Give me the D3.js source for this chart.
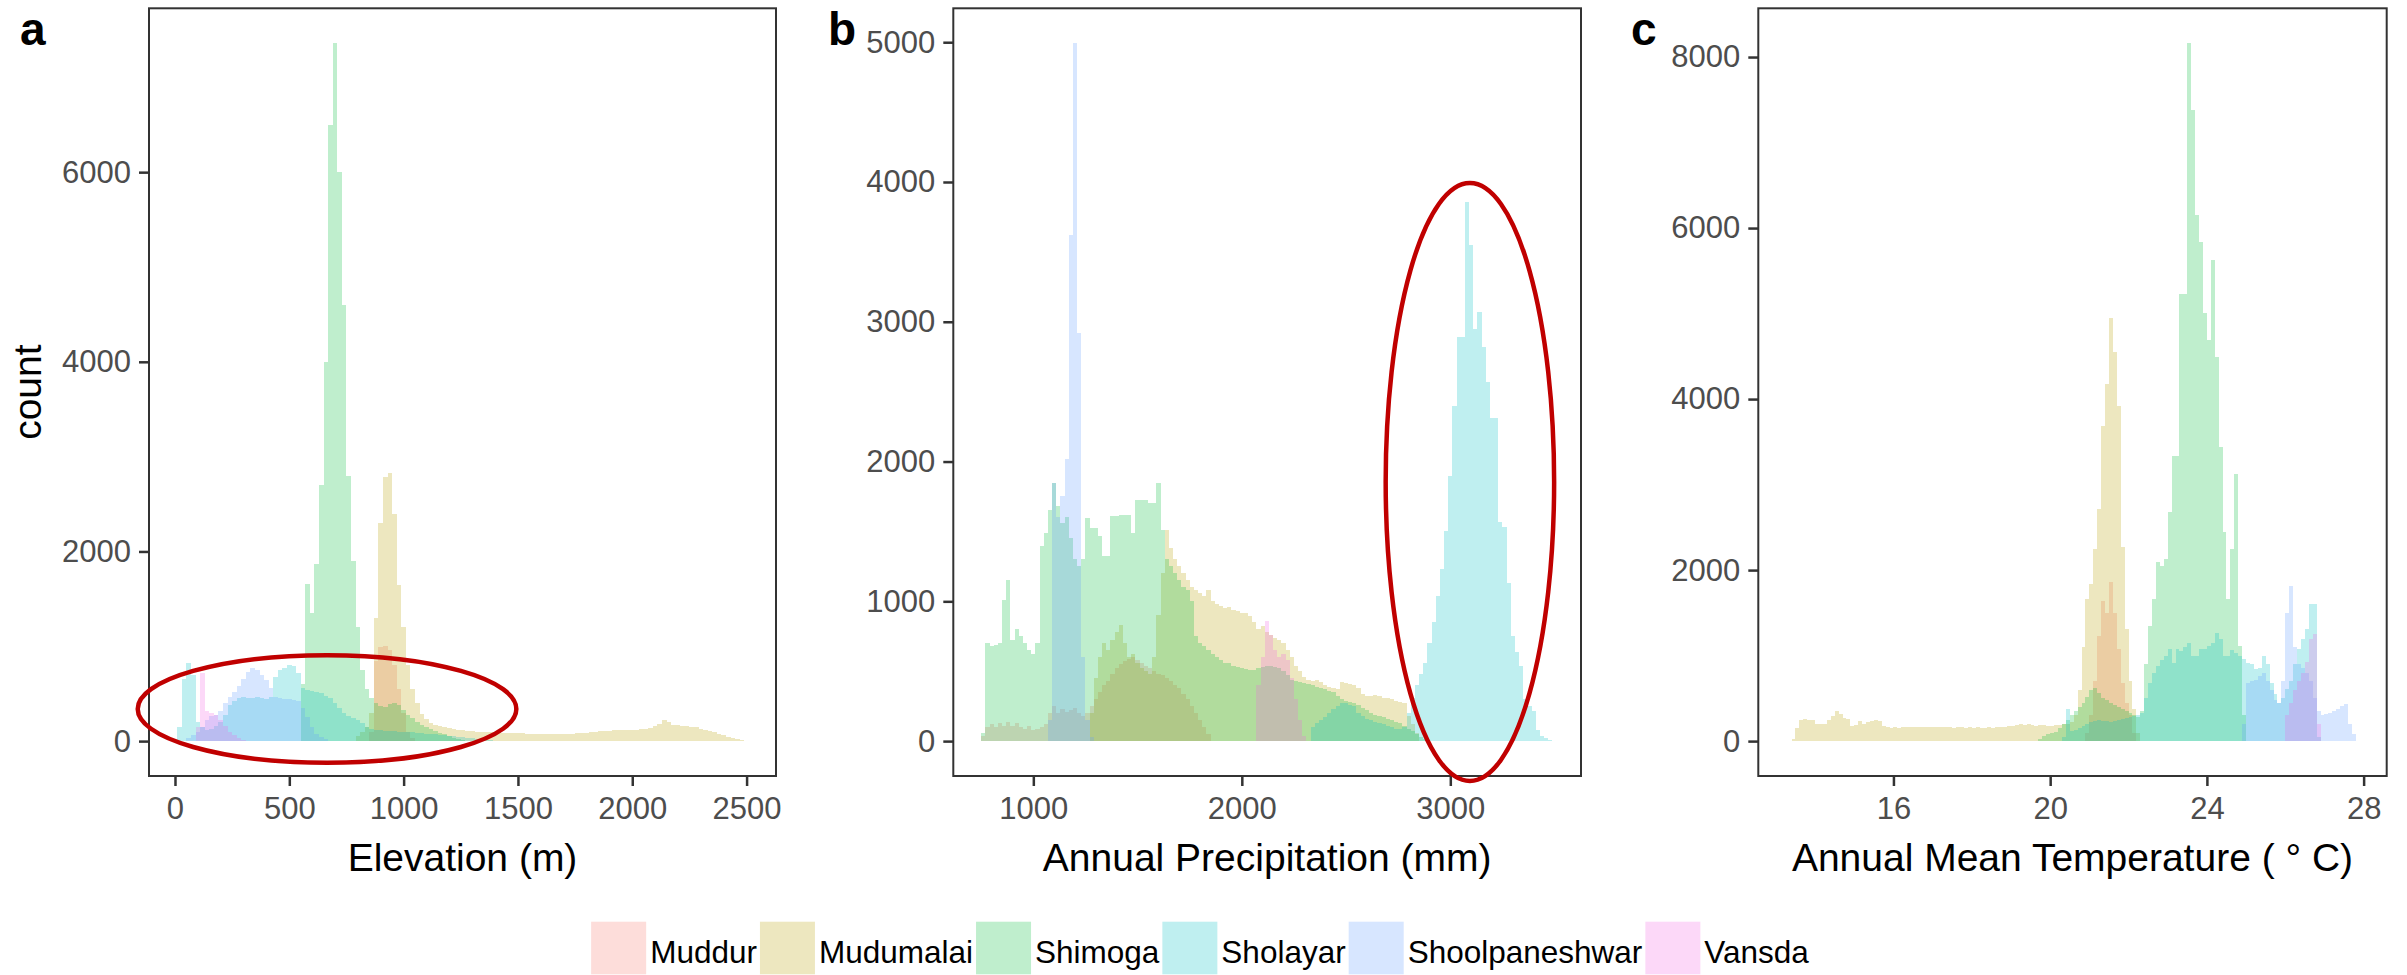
<!DOCTYPE html>
<html><head><meta charset="utf-8">
<script src="https://cdn.jsdelivr.net/npm/d3@7"></script>
<style>
body{margin:0;background:#fff}
svg{display:block}
text{font-family:"Liberation Sans",Arial,Helvetica,sans-serif}
</style>
</head><body>
<svg id="chart" width="2407" height="975"></svg>
<script>
// ---------------- DATA ----------------
const groups = ["Muddur","Mudumalai","Shimoga","Sholayar","Shoolpaneshwar","Vansda"];
const groupColors = ["#F8766D","#B79F00","#00BA38","#00BFC4","#619CFF","#F564E3"];

// Panel a: Elevation (m), bin width 20
const elevBinWidth = 20;
const elevRange = [11, 2504];
const elevTicks = [0, 500, 1000, 1500, 2000, 2500];
const elevCountTicks = [0, 2000, 4000, 6000];
const elevMuddurStart = 850;
const elevMuddur = [100,850,990,1000,960,800,550,300,100,30];
const elevMudumalaiStart = 790;
const elevMudumalai = [50,100,150,300,1300,2300,2780,2830,2400,1650,
 1200,800,550,400,290,230,190,170,160,150,
 140,130,120,115,110,105,100,100,95,98,
 92,90,88,90,85,82,85,80,78,80,
 76,78,75,78,74,76,80,78,82,85,
 88,92,98,105,110,108,112,115,112,118,
 122,120,125,130,140,155,185,218,200,175,
 165,160,158,150,145,130,120,105,95,80,
 60,45,35,25,12];
const elevShimogaStart = 550;
const elevShimoga = [600,1660,1350,1870,2700,4000,6500,7360,6000,4600,
 2800,1900,1200,750,550,450,400,370,360,390,
 400,380,330,280,240,200,170,150,130,110,
 90,70,50,35,20,10];
const elevSholayarStart = 10;
const elevSholayar = [150,650,820,700,200,150,120,130,160,200,
 280,380,420,450,460,450,450,460,450,440,
 470,680,750,770,805,790,720,560,540,530,
 520,510,480,450,400,350,300,270,240,220,
 190,150,130,120,115,110,108,105,100,98,
 95,92,90,85,80,75,70,65,60,55,
 50,45,40,35,30,25,20,15,10,5];
const elevShoolpaneshwarStart = 50;
const elevShoolpaneshwar = [30,60,100,150,220,260,280,320,400,470,
 520,580,650,730,770,750,700,640,560,470,
 450,440,440,430,420,350,250,150,80,40,
 20];
const elevVansdaStart = 90;
const elevVansda = [150,720,320,300,280,220,160,100,60,30,10];

// Panel b: Annual Precipitation (mm), bin width 20
const precBinWidth = 20;
const precRange = [753, 3490];
const precTicks = [1000, 2000, 3000];
const precCountTicks = [0, 1000, 2000, 3000, 4000, 5000];
const precMuddurStart = 750;
const precMuddur = [40,100,120,100,130,110,140,110,130,100,
 90,110,80,90,100,120,200,250,200,230,
 210,220,240,200,180,200,250,300,350,400,
 430,480,520,550,570,590,600,580,560,540,
 520,500,480,470,450,430,400,380,340,300,
 250,200,150,100,50];
const precMudumalaiStart = 1270;
const precMudumalai = [200,450,600,700,650,720,780,830,700,600,
 620,560,520,500,480,600,900,1200,1512,1380,
 1300,1250,1200,1150,1100,1083,1060,1040,1083,1000,
 980,964,950,960,940,930,916,920,893,850,
 800,820,780,760,740,720,700,655,600,535,
 500,460,440,430,440,420,400,390,380,370,
 420,417,410,400,380,340,321,321,330,320,
 310,310,300,290,280,274,178,120,60];
const precShimogaStart = 750;
const precShimoga = [60,700,680,690,700,1012,1155,726,800,750,
 700,655,620,700,1393,1488,1650,1845,1680,1560,
 1600,1450,1300,1250,1300,1595,1524,1524,1464,1321,
 1321,1607,1607,1620,1620,1620,1488,1726,1726,1726,
 1702,1702,1845,1512,1300,1250,1200,1150,1100,1083,
 1000,750,700,680,650,620,600,580,560,560,
 540,530,520,515,512,510,520,530,535,535,
 530,520,500,470,440,430,420,417,410,400,
 390,380,370,360,350,320,300,290,280,274,
 260,240,220,200,190,180,170,160,150,140,
 130,110,90,70,50,30,15];
const precSholayarStart = 2330;
const precSholayar = [100,130,150,170,200,230,250,274,274,260,
 250,200,180,160,150,140,130,120,110,100,
 90,90,100,200,310,400,480,560,700,850,
 1040,1230,1500,1900,2400,2890,2890,3860,3550,2950,
 3070,2820,2570,2310,2310,1570,1535,1130,750,640,
 536,300,250,214,83,40,24,10];
const precShoolpaneshwarStart = 1070;
const precShoolpaneshwar = [150,1845,1600,1750,2017,3619,4993,2917,600,150,30];
const precVansdaStart = 2070;
const precVansda = [400,600,857,760,650,600,620,580,450,300,150,40];

// Panel c: Annual Mean Temperature (°C), bin width 0.1
const tempBinWidth = 0.1;
const tempRange = [13.28, 27.86];
const tempTicks = [16, 20, 24, 28];
const tempCountTicks = [0, 2000, 4000, 6000, 8000];
const tempMuddurStart = 20.9;
const tempMuddur = [100,300,700,1230,1640,1504,1855,1500,1074,683,449,300,100];
const tempMudumalaiStart = 13.4;
const tempMudumalai = [20,150,250,260,250,250,200,195,200,250,
 293,352,312,270,260,176,190,234,200,220,
 240,245,230,180,160,155,160,150,165,170,
 160,170,165,160,170,160,165,160,170,165,
 160,155,160,165,155,160,150,160,155,150,
 160,155,165,160,170,175,180,190,200,185,
 195,190,180,190,185,180,180,190,190,200,
 200,220,300,600,1100,1660,1836,2246,2715,3689,
 4174,4951,4551,3914,2265,1308,700,371,100];
const tempShimogaStart = 19.7;
const tempShimoga = [30,60,80,100,110,150,200,250,300,350,
 400,450,520,600,625,560,500,480,450,420,
 400,380,350,330,300,280,350,900,1348,1660,
 2090,2050,2128,2676,3339,3339,5234,5234,8162,7378,
 6155,5832,5009,4691,5630,4497,3437,2441,1660,2246,
 3126,1113,300];
const tempSholayarStart = 20.3;
const tempSholayar = [50,371,120,130,150,180,200,220,240,250,
 240,230,220,230,250,260,270,280,290,300,
 330,500,683,800,880,950,996,1074,918,1074,
 1050,1100,1150,996,1000,1074,1074,1113,1150,1270,
 1191,996,1000,1070,1030,990,960,918,900,840,
 860,996,900,683,550,449,500,605,700,900,
 1074,1191,1308,1601,1601,50];
const tempShoolpaneshwarStart = 24.9;
const tempShoolpaneshwar = [200,680,700,720,760,800,700,600,480,450,
 700,1500,1816,1100,900,850,800,700,500,350,
 300,320,330,350,380,410,430,200,80];
const tempVansdaStart = 26.0;
const tempVansda = [300,450,600,700,800,920,1191,1250,200];

// Annotation ellipses (data units): centre x, centre count, radius x, radius count
const ellipseElev = [665, 339, 828, 567];
const ellipsePrec = [3094, 1854, 404, 2139];

// ---------------- DRAW ----------------
const svg = d3.select("#chart");
const panelTop = 8.3, panelBottom = 776;
const fill = 0.25;

const panels = [
  {label:"a", left:149, right:776, range:elevRange, w:elevBinWidth, xticks:elevTicks, yticks:elevCountTicks,
   title:"Elevation (m)", ylab:"count", labelX:20, ellipse:ellipseElev,
   series:[[elevMuddurStart,elevMuddur],[elevMudumalaiStart,elevMudumalai],[elevShimogaStart,elevShimoga],
           [elevSholayarStart,elevSholayar],[elevShoolpaneshwarStart,elevShoolpaneshwar],[elevVansdaStart,elevVansda]]},
  {label:"b", left:953.3, right:1581, range:precRange, w:precBinWidth, xticks:precTicks, yticks:precCountTicks,
   title:"Annual Precipitation (mm)", labelX:828, ellipse:ellipsePrec,
   series:[[precMuddurStart,precMuddur],[precMudumalaiStart,precMudumalai],[precShimogaStart,precShimoga],
           [precSholayarStart,precSholayar],[precShoolpaneshwarStart,precShoolpaneshwar],[precVansdaStart,precVansda]]},
  {label:"c", left:1758.3, right:2386.7, range:tempRange, w:tempBinWidth, xticks:tempTicks, yticks:tempCountTicks,
   title:"Annual Mean Temperature ( \u00B0 C)", labelX:1631,
   series:[[tempMuddurStart,tempMuddur],[tempMudumalaiStart,tempMudumalai],[tempShimogaStart,tempShimoga],
           [tempSholayarStart,tempSholayar],[tempShoolpaneshwarStart,tempShoolpaneshwar],[tempVansdaStart,tempVansda]]}
];

panels.forEach(p => {
  const span = p.range[1]-p.range[0];
  const x = d3.scaleLinear().domain([p.range[0]-0.05*span, p.range[1]+0.05*span]).range([p.left, p.right]);
  const ymax = d3.max(p.series, s => d3.max(s[1]));
  const y = d3.scaleLinear().domain([-0.05*ymax, 1.05*ymax]).range([panelBottom, panelTop]);

  const g = svg.append("g");
  const area = d3.area().curve(d3.curveStepAfter)
     .x(d => x(d.x)).y0(y(0)).y1(d => y(d.c));

  p.series.forEach((s, gi) => {
    const start = s[0], counts = s[1];
    const pts = counts.map((c,i) => ({x: start + i*p.w, c}));
    pts.push({x: start + counts.length*p.w, c: counts[counts.length-1]});
    g.append("path").attr("d", area(pts))
      .attr("fill", groupColors[gi]).attr("fill-opacity", fill)
      .attr("shape-rendering","crispEdges");
  });

  // frame
  svg.append("rect").attr("x", p.left).attr("y", panelTop)
     .attr("width", p.right-p.left).attr("height", panelBottom-panelTop)
     .attr("fill","none").attr("stroke","#333333").attr("stroke-width",2);

  // axes
  const xa = svg.append("g").attr("transform",`translate(0,${panelBottom})`)
     .call(d3.axisBottom(x).tickValues(p.xticks).tickSize(10).tickPadding(11).tickFormat(d3.format("d")));
  const ya = svg.append("g").attr("transform",`translate(${p.left},0)`)
     .call(d3.axisLeft(y).tickValues(p.yticks).tickSize(10).tickPadding(8).tickFormat(d3.format("d")));
  [xa, ya].forEach(a => {
    a.select(".domain").remove();
    a.selectAll(".tick line").attr("stroke","#333333").attr("stroke-width",2.5);
    a.selectAll(".tick text").attr("fill","#4D4D4D").style("font-size","31px").style("font-family",'"Liberation Sans",Arial,sans-serif');
  });

  // x title
  svg.append("text").attr("x",(p.left+p.right)/2).attr("y",871)
     .attr("text-anchor","middle").style("font-size","39px").attr("fill","#000")
     .text(p.title);
  if (p.ylab) {
    svg.append("text").attr("transform",`translate(41,${(panelTop+panelBottom)/2}) rotate(-90)`)
      .attr("text-anchor","middle").style("font-size","39px").attr("fill","#000").text(p.ylab);
  }
  // panel tag
  svg.append("text").attr("x",p.labelX).attr("y",45).style("font-size","46px")
     .style("font-weight","bold").attr("fill","#000").text(p.label);

  p.xs = x; p.ys = y;
});

// annotation ellipses
panels.forEach(p => {
  if (!p.ellipse) return;
  const [cx, cy, rx, ry] = p.ellipse;
  svg.append("ellipse")
    .attr("cx", p.xs(cx)).attr("cy", p.ys(cy))
    .attr("rx", p.xs(cx+rx)-p.xs(cx)).attr("ry", p.ys(0)-p.ys(ry))
    .attr("fill","none").attr("stroke","#C00000").attr("stroke-width",4.5);
});

// legend
const legend = svg.append("g");
const keyW = 55, keyH = 52.6, keyY = 921.7, gapKT = 4, gapTK = 3;
let xpos = 0;
const items = [];
groups.forEach((gname, i) => {
  const key = legend.append("rect").attr("x", xpos).attr("y", keyY).attr("width", keyW).attr("height", keyH)
    .attr("fill", groupColors[i]).attr("fill-opacity", fill);
  const t = legend.append("text").attr("x", xpos + keyW + gapKT).attr("y", 962.7)
    .style("font-size","31.5px").attr("fill","#000").text(gname);
  const tw = t.node().getComputedTextLength();
  xpos += keyW + gapKT + tw + gapTK;
});
const totalW = xpos - gapTK;
legend.attr("transform", `translate(${1200 - totalW/2},0)`);
</script>
</body></html>
